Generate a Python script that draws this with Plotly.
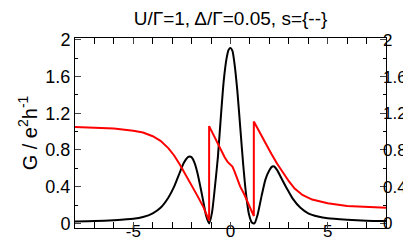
import plotly.graph_objects as go

# Black curve (conductance G)
bx = [-8.0, -7.0, -6.0, -5.0, -4.5, -4.0, -3.6, -3.2, -2.9, -2.6, -2.4, -2.2, -2.1, -2.0,
      -1.85, -1.7, -1.55, -1.4, -1.25, -1.1, -0.95, -0.8, -0.65, -0.5, -0.35, -0.2, -0.1,
      0.0, 0.1, 0.2, 0.35, 0.5, 0.65, 0.8, 0.95, 1.1, 1.23, 1.4, 1.6, 1.8, 2.0, 2.15, 2.25,
      2.4, 2.6, 2.9, 3.2, 3.6, 4.0, 4.5, 5.0, 6.0, 7.0, 8.0]
by = [0.02, 0.025, 0.035, 0.05, 0.07, 0.11, 0.17, 0.28, 0.40, 0.56, 0.66, 0.72, 0.73, 0.72,
      0.66, 0.55, 0.40, 0.24, 0.08, 0.0, 0.12, 0.40, 0.72, 1.15, 1.55, 1.80, 1.89,
      1.91, 1.88, 1.75, 1.45, 1.05, 0.65, 0.32, 0.10, 0.01, 0.0, 0.10, 0.30, 0.48, 0.58, 0.62, 0.62,
      0.58, 0.50, 0.38, 0.27, 0.17, 0.11, 0.075, 0.055, 0.04, 0.03, 0.025]

# Red curve
rx = [-8.0, -7.0, -6.0, -5.0, -4.5, -4.0, -3.6, -3.2, -2.9, -2.6, -2.3, -2.0, -1.7, -1.4, -1.1,
      -1.1, -0.8, -0.5, -0.3, -0.15, 0.0, 0.1, 0.2, 0.35, 0.5, 0.7, 0.9, 1.2,
      1.2, 1.5, 1.8, 2.1, 2.4, 2.7, 3.0, 3.3, 3.7, 4.2, 5.0, 6.0, 7.0, 8.0]
ry = [1.05, 1.045, 1.035, 1.01, 0.99, 0.95, 0.90, 0.82, 0.74, 0.64, 0.53, 0.42, 0.30, 0.18, 0.03,
      1.06, 0.93, 0.80, 0.72, 0.67, 0.64, 0.62, 0.57, 0.48, 0.40, 0.32, 0.23, 0.08,
      1.11, 0.99, 0.87, 0.76, 0.65, 0.55, 0.46, 0.38, 0.31, 0.26, 0.22, 0.19, 0.18, 0.17]

x_range = [-8, 8]
y_range = [-0.05, 2.02]
y_ticks = [0, 0.4, 0.8, 1.2, 1.6, 2]
y_tick_labels = ["0", "0.4", "0.8", "1.2", "1.6", "2"]
x_ticks = [-5, 0, 5]
x_tick_labels = ["-5", "0", "5"]

title_text = "U/Γ=1, Δ/Γ=0.05, s={--}"
y_title = "G / e<sup>2</sup>h<sup>-1</sup>"

font = "Liberation Sans, Arial, sans-serif"

fig = go.Figure()
fig.add_trace(go.Scatter(x=bx, y=by, mode="lines", line=dict(color="black", width=2, shape="spline", smoothing=0.6)))
fig.add_trace(go.Scatter(x=rx, y=ry, mode="lines", line=dict(color="red", width=2)))
fig.add_trace(go.Scatter(x=[0], y=[0], yaxis="y2", mode="markers", marker=dict(opacity=0), hoverinfo="skip"))

fig.update_layout(
    width=411, height=240,
    margin=dict(l=67, r=33, t=30, b=20),
    paper_bgcolor="white", plot_bgcolor="white",
    showlegend=False,
    font=dict(family=font, size=18, color="black"),
    title=dict(text=title_text, xref="paper", x=0.5, xanchor="center",
               yref="container", y=0.985, yanchor="top", automargin=False,
               font=dict(family=font, size=19, color="black")),
    xaxis=dict(range=x_range, tickvals=x_ticks, ticktext=x_tick_labels, ticks="inside", ticklen=6, tickwidth=1,
               showline=True, linecolor="black", linewidth=1, mirror="allticks", automargin=False,
               showgrid=False, zeroline=False, tickfont=dict(size=17), ticklabelstandoff=-12,
               minor=dict(dtick=1, tick0=0, ticks="inside", ticklen=3, tickcolor="black", showgrid=False)),
    yaxis=dict(range=y_range, tickvals=y_ticks, ticktext=y_tick_labels, ticks="inside", ticklen=6,
               showline=True, linecolor="black", linewidth=1, mirror="allticks", automargin=False,
               showgrid=False, zeroline=False, tickfont=dict(size=18),
               title=dict(text=y_title, font=dict(size=20), standoff=2),
               minor=dict(dtick=0.2, tick0=0, ticks="inside", ticklen=3, tickcolor="black", showgrid=False)),
    yaxis2=dict(range=y_range, overlaying="y", side="right", tickvals=y_ticks, ticktext=y_tick_labels,
                automargin=False, ticklabelstandoff=-4,
                ticks="", showline=False, showgrid=False, zeroline=False, tickfont=dict(size=17)),
)

fig.write_html("out.html")
